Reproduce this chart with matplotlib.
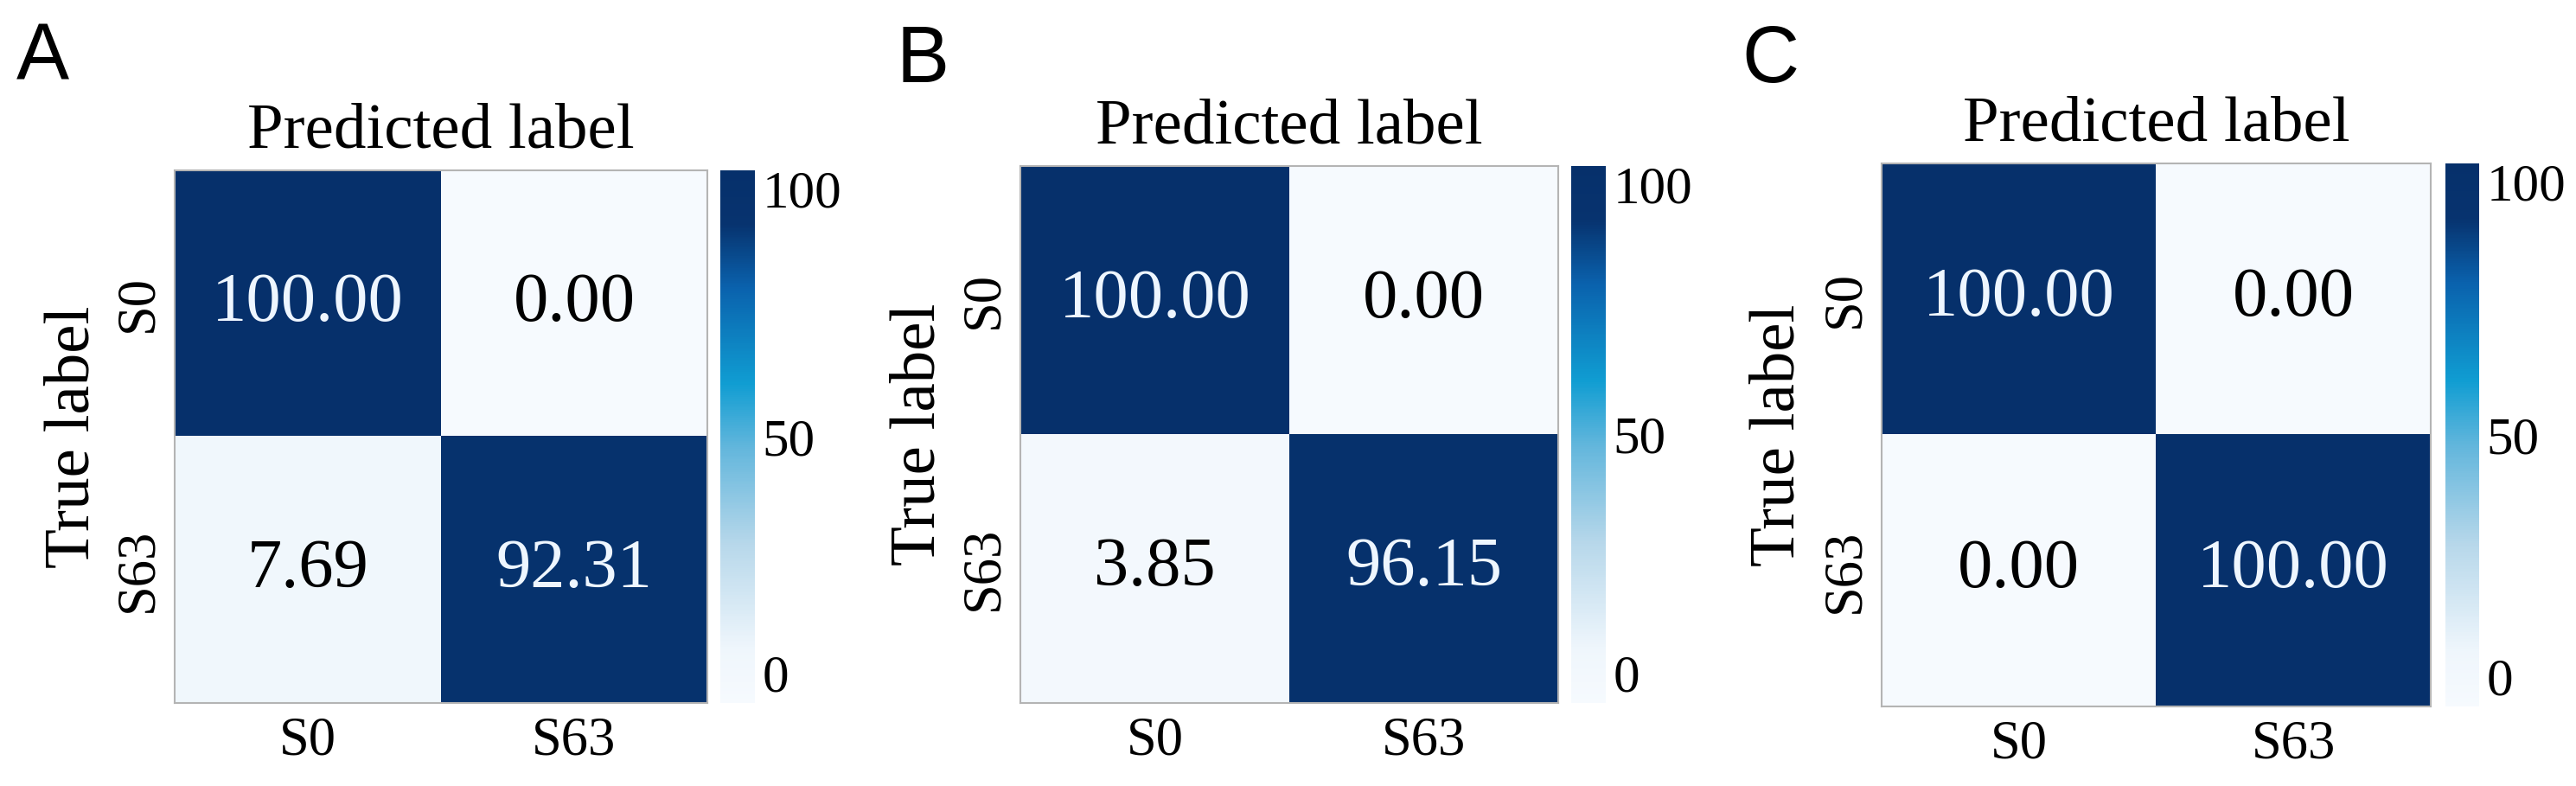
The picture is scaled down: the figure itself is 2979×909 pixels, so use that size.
import numpy as np
import matplotlib
matplotlib.use('Agg')
import matplotlib.pyplot as plt
from matplotlib.colors import LinearSegmentedColormap

plt.rcParams['font.family'] = ['Liberation Serif', 'DejaVu Serif']

# Confusion matrices (percent), rows = true, cols = predicted
classes = ['S0', 'S63']
cm_a = [[100.00, 0.00], [7.69, 92.31]]
cm_b = [[100.00, 0.00], [3.85, 96.15]]
cm_c = [[100.00, 0.00], [0.00, 100.00]]
panel_names = ['A', 'B', 'C']
cbar_ticks = [0, 50, 100]

# Blues-like map, a bit more cyan in the middle like the original
cmap = LinearSegmentedColormap.from_list('blues_c', [
    (0.00, '#f6fafe'), (0.10, '#eff6fc'), (0.30, '#b6d7ea'),
    (0.48, '#62b6dc'), (0.60, '#109dd2'), (0.78, '#0a62ad'),
    (0.90, '#07336f'), (1.00, '#06306b')])

W, H = 2979, 909
fig = plt.figure(figsize=(W / 100, H / 100), dpi=100)

# pixel boxes [left, top, right, bottom] for heatmap and colorbar
heat_px = [(202, 197, 818, 813), (1180, 192, 1802, 813), (2176, 189, 2811, 817)]
cbar_px = [(833, 873), (1817, 1857), (2828, 2867)]
letter_px = [(19, 93), (1036, 95), (2014, 95)]


def px_box(l, t, r, b):
    return [l / W, 1 - b / H, (r - l) / W, (b - t) / H]


for i, cm in enumerate([cm_a, cm_b, cm_c]):
    data = np.array(cm)
    l, t, r, b = heat_px[i]
    ax = fig.add_axes(px_box(l, t, r, b))
    cax = fig.add_axes(px_box(cbar_px[i][0], t, cbar_px[i][1], b))

    im = ax.imshow(data, cmap=cmap, vmin=0, vmax=100, aspect='auto')
    for (row, col), v in np.ndenumerate(data):
        color = '#eef6ff' if v > 50 else 'black'
        ax.text(col, row, f'{v:.2f}', ha='center', va='center',
                fontsize=58, color=color)

    ax.set_xticks(range(len(classes)))
    ax.set_xticklabels(classes)
    ax.set_yticks(range(len(classes)))
    ax.set_yticklabels(classes, rotation=90, va='center')
    ax.tick_params(axis='x', length=0, pad=11, labelsize=45)
    ax.tick_params(axis='y', length=0, pad=9, labelsize=45)
    ax.set_title('Predicted label', fontsize=54, pad=19)
    ax.set_ylabel('True label', fontsize=54)
    ax.yaxis.set_label_coords(-0.135, 0.5)
    for sp in ax.spines.values():
        sp.set_color('#b4b4b4')
        sp.set_linewidth(1.5)

    cb = fig.colorbar(im, cax=cax, ticks=cbar_ticks)
    cb.outline.set_visible(False)
    cax.tick_params(length=0, pad=6, labelsize=44)
    labels = cax.get_yticklabels()
    labels[0].set_va('bottom')
    labels[-1].set_va('top')

    fig.text(letter_px[i][0] / W, 1 - letter_px[i][1] / H, panel_names[i],
             fontsize=66, family='Liberation Sans', va='baseline', ha='left')

fig.savefig('out.png', dpi=100)
